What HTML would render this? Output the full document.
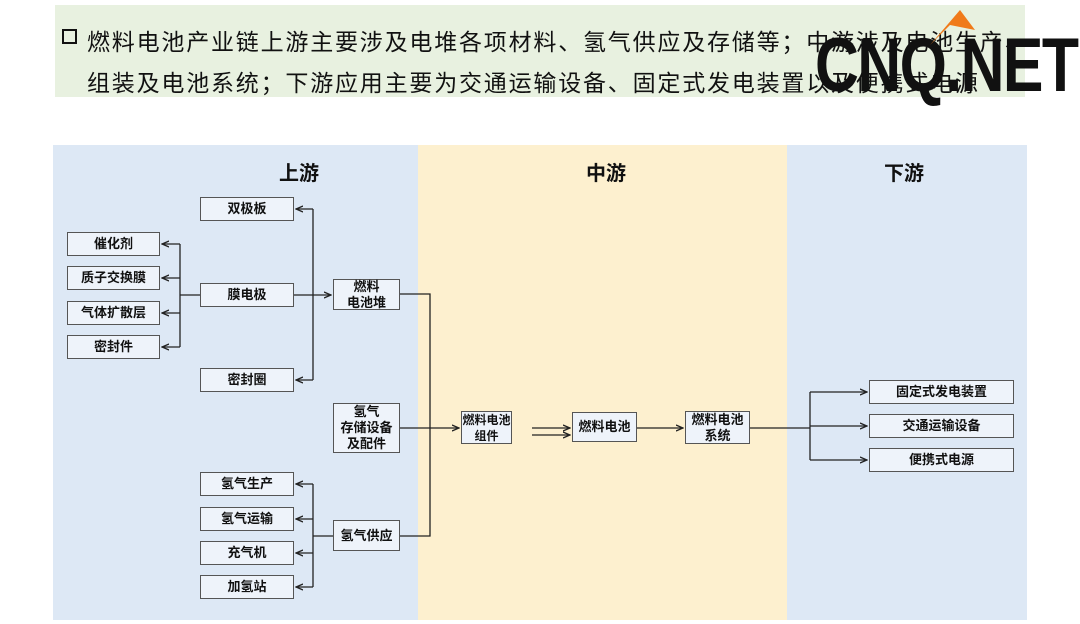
<!DOCTYPE html>
<html><head><meta charset="utf-8"><style>
body{margin:0;width:1080px;height:624px;background:#fff;position:relative;overflow:hidden;font-family:"Liberation Sans","Noto Sans CJK SC",sans-serif}
.hdr{position:absolute;left:55px;top:5px;width:970px;height:92px;background:#e8f1e0}
.t{position:absolute;font-size:23px;letter-spacing:1.8px;color:#111;white-space:nowrap}
.p{position:absolute;top:145px;height:475px}
.b{position:absolute;box-sizing:border-box;border:1.5px solid #555;background:#eef3fa;font-size:13px;font-weight:bold;color:#111;display:flex;align-items:center;justify-content:center;text-align:center;line-height:16px;white-space:nowrap}
.h{position:absolute;top:157px;font-size:20px;font-weight:bold;color:#111}
</style></head><body>
<div class="hdr"></div>
<div style="position:absolute;left:62px;top:29px;width:11px;height:11px;border:2.5px solid #111"></div>
<div class="t" style="left:87px;top:23px">燃料电池产业链上游主要涉及电堆各项材料、氢气供应及存储等；中游涉及电池生产、</div>
<div class="t" style="left:87px;top:64px">组装及电池系统；下游应用主要为交通运输设备、固定式发电装置以及便携式电源</div>
<div style="position:absolute;left:815px;top:26px;font-size:76px;font-weight:bold;color:#111;letter-spacing:-2px;transform:scaleX(0.8);transform-origin:left;line-height:80px">CNQ.NET</div>
<svg style="position:absolute;left:920px;top:5px" width="60" height="45"><polygon points="10,40 40,5 55,25 30,20" fill="#f07a1a"/></svg>
<div class="p" style="left:53px;width:365px;background:#dde8f5"></div>
<div class="p" style="left:418px;width:369px;background:#fdf0cf"></div>
<div class="p" style="left:787px;width:240px;background:#dde8f5"></div>
<div class="h" style="left:279px">上游</div>
<div class="h" style="left:586px">中游</div>
<div class="h" style="left:884px">下游</div>
<svg style="position:absolute;left:0;top:0" width="1080" height="624">
<defs><marker id="a" markerWidth="8" markerHeight="8" refX="7" refY="4" orient="auto" markerUnits="userSpaceOnUse"><path d="M0,1 L7,4 L0,7" fill="none" stroke="#222" stroke-width="1.3"/></marker></defs>
<g stroke="#222" stroke-width="1.3" fill="none">
<path d="M180,244 V347 M200,295 H180"/>
<path d="M180,244 H162" marker-end="url(#a)"/>
<path d="M180,278 H162" marker-end="url(#a)"/>
<path d="M180,313 H162" marker-end="url(#a)"/>
<path d="M180,347 H162" marker-end="url(#a)"/>
<path d="M313,209 V380"/>
<path d="M313,209 H296" marker-end="url(#a)"/>
<path d="M313,380 H296" marker-end="url(#a)"/>
<path d="M294,295 H331" marker-end="url(#a)"/>
<path d="M313,484 V587 M333,536 H313"/>
<path d="M313,484 H296" marker-end="url(#a)"/>
<path d="M313,519 H296" marker-end="url(#a)"/>
<path d="M313,553 H296" marker-end="url(#a)"/>
<path d="M313,587 H296" marker-end="url(#a)"/>
<path d="M400,294 H430 V536 H400 M400,428 H430"/>
<path d="M430,428 H459" marker-end="url(#a)"/>
<path d="M532,428 H570" marker-end="url(#a)"/>
<path d="M532,435 H570" marker-end="url(#a)"/>
<path d="M637,428 H683" marker-end="url(#a)"/>
<path d="M750,428 H810 V392 M810,428 V460"/>
<path d="M810,392 H867" marker-end="url(#a)"/>
<path d="M810,426 H867" marker-end="url(#a)"/>
<path d="M810,460 H867" marker-end="url(#a)"/>
</g></svg>
<div class="b" style="left:200px;top:197px;width:94px;height:24px">双极板</div>
<div class="b" style="left:67px;top:232px;width:93px;height:24px">催化剂</div>
<div class="b" style="left:67px;top:266px;width:93px;height:24px">质子交换膜</div>
<div class="b" style="left:67px;top:301px;width:93px;height:24px">气体扩散层</div>
<div class="b" style="left:67px;top:335px;width:93px;height:24px">密封件</div>
<div class="b" style="left:200px;top:283px;width:94px;height:24px">膜电极</div>
<div class="b" style="left:200px;top:368px;width:94px;height:24px">密封圈</div>
<div class="b" style="left:333px;top:279px;width:67px;height:31px">燃料<br>电池堆</div>
<div class="b" style="left:333px;top:403px;width:67px;height:50px">氢气<br>存储设备<br>及配件</div>
<div class="b" style="left:200px;top:472px;width:94px;height:24px">氢气生产</div>
<div class="b" style="left:200px;top:507px;width:94px;height:24px">氢气运输</div>
<div class="b" style="left:200px;top:541px;width:94px;height:24px">充气机</div>
<div class="b" style="left:200px;top:575px;width:94px;height:24px">加氢站</div>
<div class="b" style="left:333px;top:520px;width:67px;height:31px">氢气供应</div>
<div class="b" style="left:461px;top:411px;width:51px;height:33px;font-size:12px">燃料电池<br>组件</div>
<div class="b" style="left:572px;top:412px;width:65px;height:30px">燃料电池</div>
<div class="b" style="left:685px;top:411px;width:65px;height:33px">燃料电池<br>系统</div>
<div class="b" style="left:869px;top:380px;width:145px;height:24px">固定式发电装置</div>
<div class="b" style="left:869px;top:414px;width:145px;height:24px">交通运输设备</div>
<div class="b" style="left:869px;top:448px;width:145px;height:24px">便携式电源</div>
</body></html>
